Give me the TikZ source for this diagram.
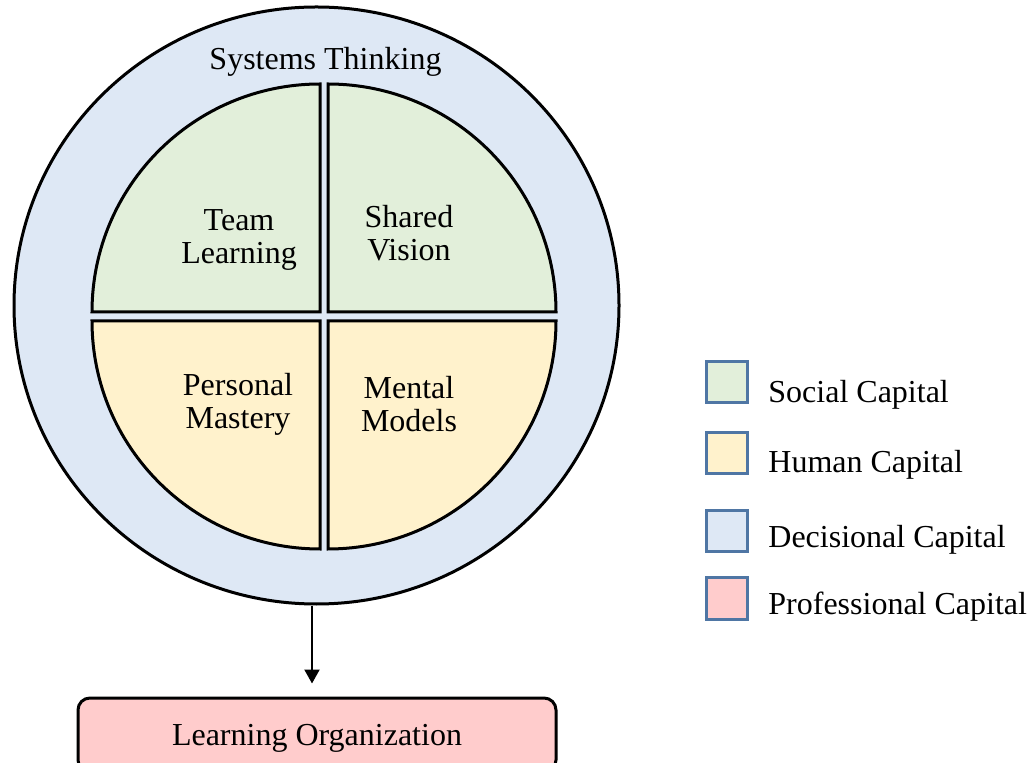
\documentclass[tikz,border=0pt]{standalone}
\usepackage{fontspec}
\setmainfont{Liberation Serif}
\usetikzlibrary{shapes.geometric,arrows.meta}

\definecolor{socialfill}{HTML}{E2EFDA}
\definecolor{humanfill}{HTML}{FFF2CC}
\definecolor{decisionfill}{HTML}{DEE8F5}
\definecolor{proffill}{HTML}{FFCCCC}
\definecolor{keyline}{HTML}{4F76A4}

\begin{document}
\begin{tikzpicture}[x=0.5pt, y=0.5pt,
  every node/.style={font=\fontsize{16}{16.5}\selectfont, align=center},
  quarter/.style={draw=black, line width=1.5pt},
  keybox/.style={draw=keyline, line width=1.5pt, minimum size=20.5pt, inner sep=0pt},
  keytext/.style={anchor=west, inner sep=0pt}]
\useasboundingbox (0,0) rectangle (1032,-763);
\clip (0,0) rectangle (1032,-763);

% outer ring: systems thinking
\node[ellipse, draw, line width=1.5pt, fill=decisionfill, inner sep=0pt,
      minimum width=302.5pt, minimum height=298.5pt] (outer) at (316.5,-305.5) {};
\node (systems) at (325.5,-61.5) {Systems Thinking};

% the four disciplines
\draw[quarter, fill=socialfill] (320,-312) -- ++(-228,0) arc[start angle=180, end angle=90, radius=228] -- cycle;
\draw[quarter, fill=socialfill] (328,-312) -- ++(228,0) arc[start angle=0, end angle=90, radius=228] -- cycle;
\draw[quarter, fill=humanfill] (320,-321) -- ++(-228,0) arc[start angle=180, end angle=270, radius=228] -- cycle;
\draw[quarter, fill=humanfill] (328,-321) -- ++(228,0) arc[start angle=0, end angle=-90, radius=228] -- cycle;

\node (team) at (239,-240) {Team\\Learning};
\node (vision) at (409,-233) {Shared\\Vision};
\node (mastery) at (238,-404.5) {Personal\\Mastery};
\node (models) at (409,-404.5) {Mental\\Models};

% result
\node[draw, line width=1.5pt, rounded corners=6pt, fill=proffill,
      minimum width=239pt, minimum height=37pt] (org) at (317,-735) {};
\node (orgtext) at (317,-738) {Learning Organization};
\coordinate (tap) at (312,0);
\draw[line width=1.1pt, shorten >=6.5pt, -{Triangle[width=7.5pt,length=7pt]}] (outer.south -| tap) -- (org.north -| tap);

% key
\node[keybox, fill=socialfill] (social) at (727,-382.5) {};
\node[keytext] (socialtext) at (768,-394.5) {Social Capital};
\node[keybox, fill=humanfill] (human) at (727,-453.5) {};
\node[keytext] (humantext) at (768,-464.5) {Human Capital};
\node[keybox, fill=decisionfill] (decisional) at (727,-531) {};
\node[keytext] (decisionaltext) at (768,-539.5) {Decisional Capital};
\node[keybox, fill=proffill] (professional) at (727,-598.5) {};
\node[keytext] (professionaltext) at (768,-606.5) {Professional Capital};

\end{tikzpicture}
\end{document}
